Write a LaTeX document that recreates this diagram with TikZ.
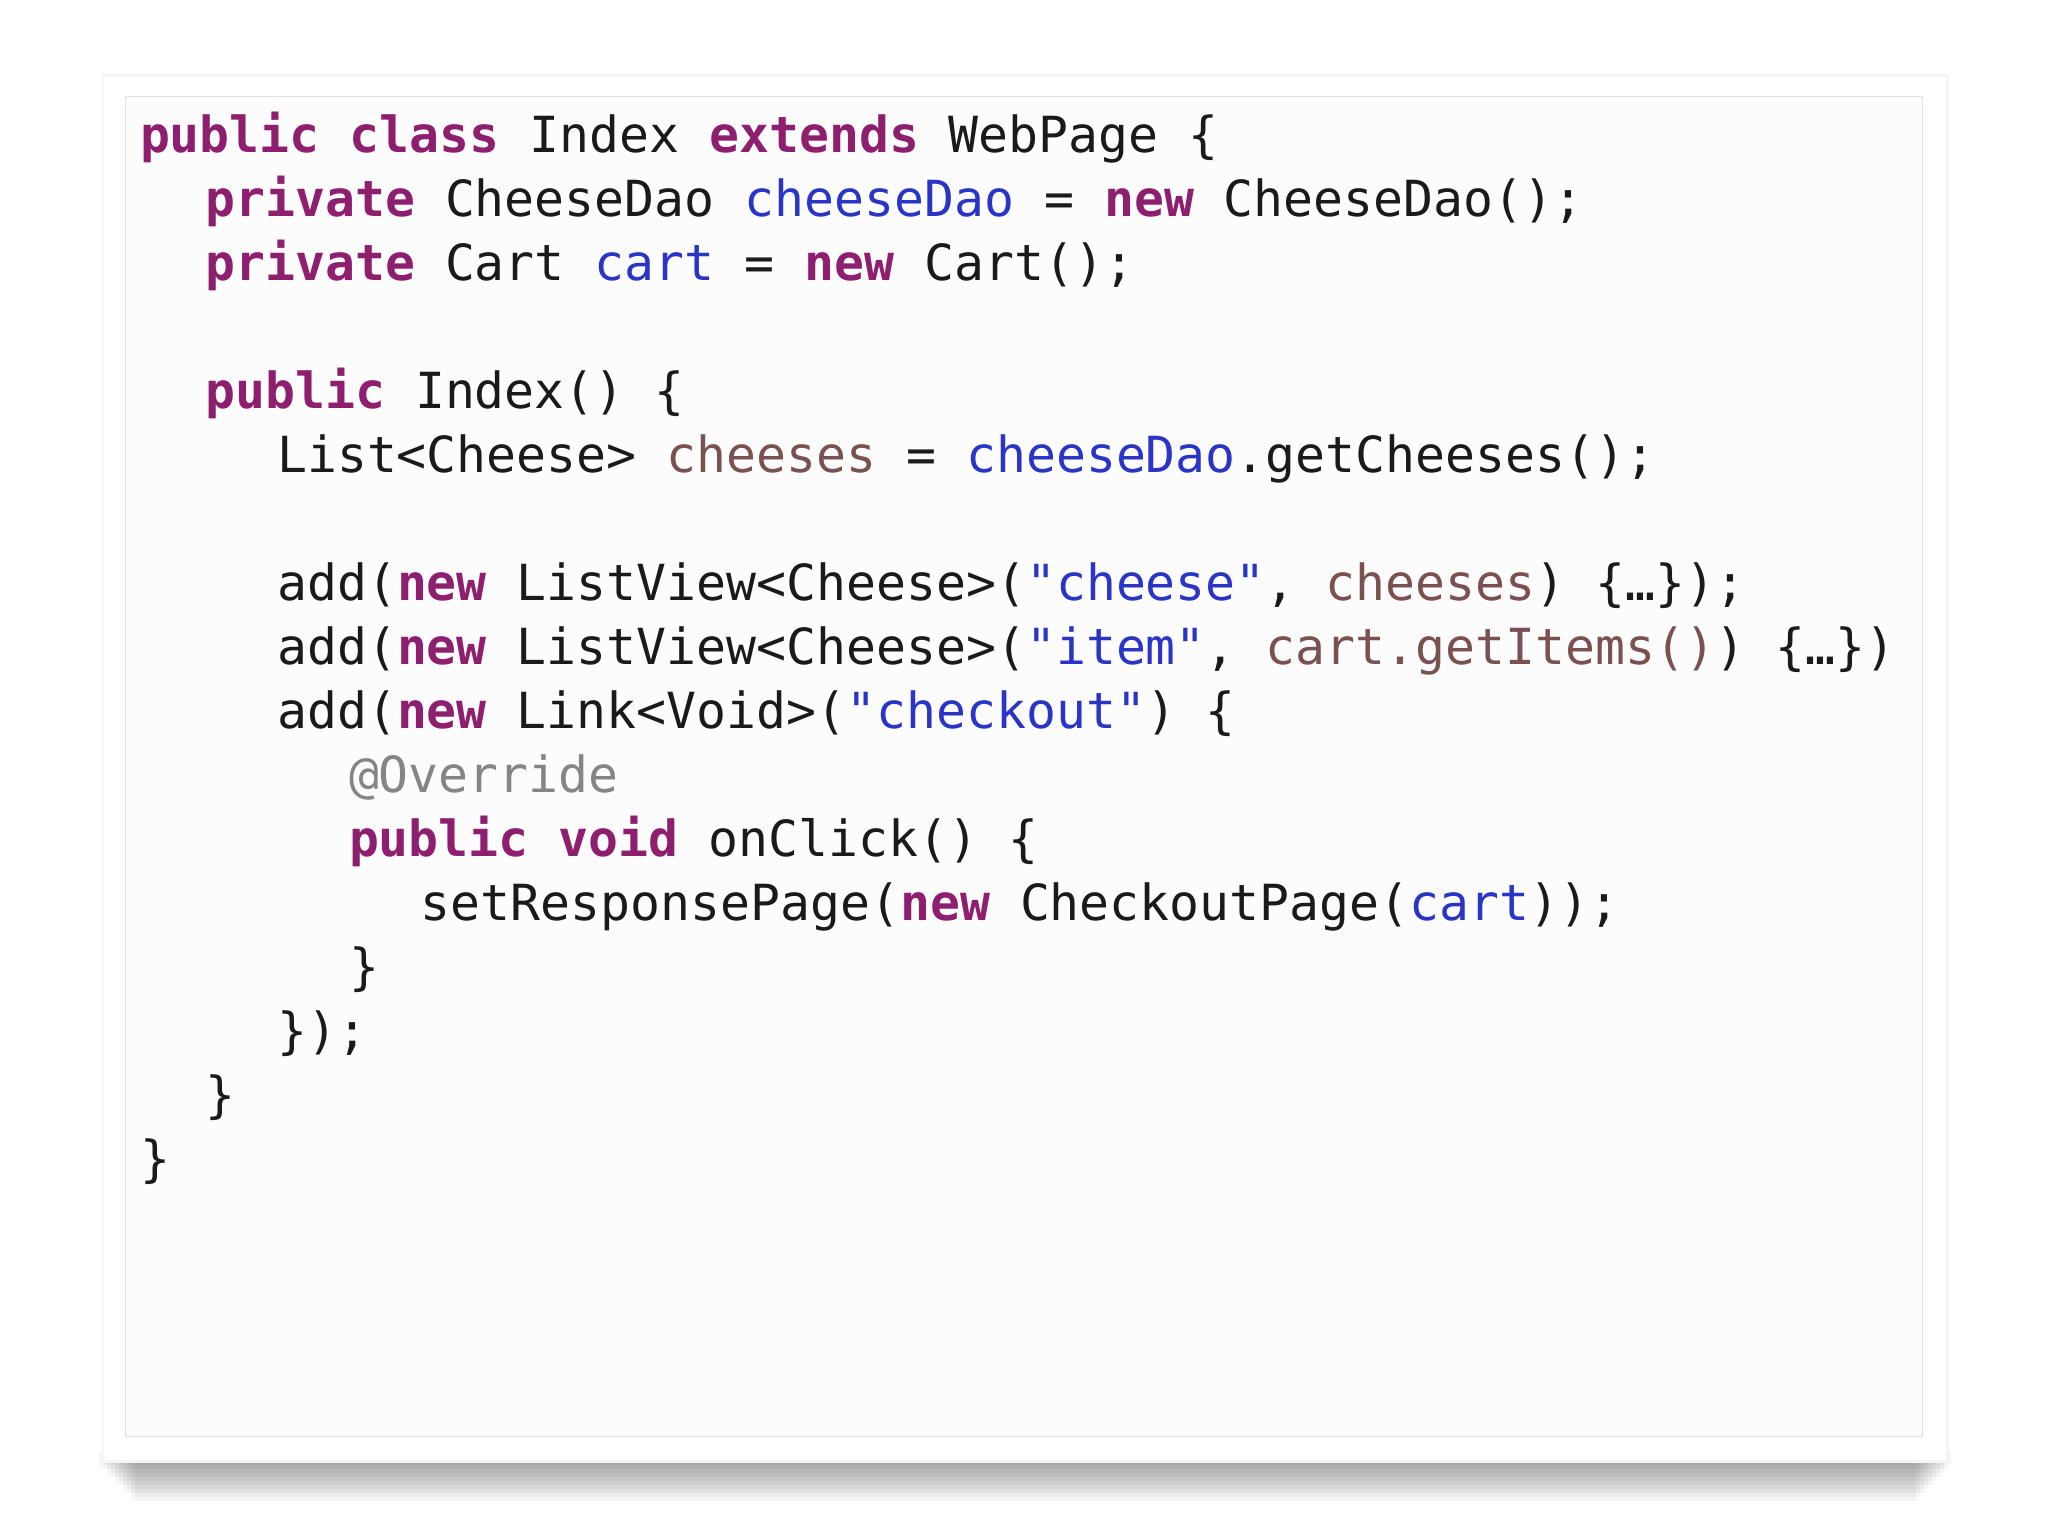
\documentclass[tikz,border=0pt]{standalone}
\usepackage{fontspec}
\setmonofont{DejaVu Sans Mono}
\definecolor{kw}{HTML}{8E1E6E}
\definecolor{fld}{HTML}{2A35C8}
\definecolor{loc}{HTML}{7A5050}
\definecolor{ann}{HTML}{858585}
\definecolor{txt}{HTML}{1A1A1A}
\newcommand{\K}[1]{\textcolor{kw}{\bfseries #1}}
\newcommand{\F}[1]{\textcolor{fld}{#1}}
\newcommand{\Lc}[1]{\textcolor{loc}{#1}}
\newcommand{\An}[1]{\textcolor{ann}{#1}}
\begin{document}
\begin{tikzpicture}[x=1pt,y=-1pt,
  code/.style={anchor=base west,inner sep=0pt,font=\ttfamily\fontsize{38.1}{40}\selectfont,text=txt}]
\useasboundingbox (0,0) rectangle (1568,1176);
\fill[white] (0,0) rectangle (1568,1176);
% shadow
\foreach \i in {0,...,9}{
  \fill[black,opacity=0.04] (76+\i*3,1112) rectangle (1494-\i*3,1122+\i*3);
}
\fill[black!4] (78,57) rectangle (1492,1120);
\fill[white] (80,59) rectangle (1490,1118);
\draw[black!12,fill=black!1] (96,74) rectangle (1472,1100);
\node[code] (l1) at (107,117) {\K{public} \K{class} Index \K{extends} WebPage \{};
\node[code] (l2) at (157,166) {\K{private} CheeseDao \F{cheeseDao} = \K{new} CheeseDao();};
\node[code] (l3) at (157,215) {\K{private} Cart \F{cart} = \K{new} Cart();};
\node[code] (l4) at (157,313) {\K{public} Index() \{};
\node[code] (l5) at (212,362) {List<Cheese> \Lc{cheeses} = \F{cheeseDao}.getCheeses();};
\node[code] (l6) at (212,460) {add(\K{new} ListView<Cheese>(\F{"cheese"}, \Lc{cheeses}) \{…\});};
\node[code] (l7) at (212,509) {add(\K{new} ListView<Cheese>(\F{"item"}, \Lc{cart.getItems()}) \{…\})};
\node[code] (l8) at (212,558) {add(\K{new} Link<Void>(\F{"checkout"}) \{};
\node[code] (l9) at (267,607) {\An{@Override}};
\node[code] (l10) at (267,656) {\K{public} \K{void} onClick() \{};
\node[code] (l11) at (322,705) {setResponsePage(\K{new} CheckoutPage(\F{cart}));};
\node[code] (l12) at (267,754) {\}};
\node[code] (l13) at (212,803) {\});};
\node[code] (l14) at (157,852) {\}};
\node[code] (l15) at (107,901) {\}};
\end{tikzpicture}
\end{document}
